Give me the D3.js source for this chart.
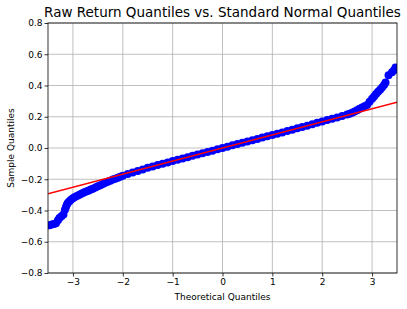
<!DOCTYPE html>
<html>
<head>
<meta charset="utf-8">
<script src="https://cdn.jsdelivr.net/npm/d3@7"></script>
<style>
  body { margin: 0; background: #fff; }
  text { font-family: "DejaVu Sans", sans-serif; fill: #000; }
</style>
</head>
<body>
<div id="chart"></div>
<script>
// theoretical quantiles (x) and sample quantiles (y)
const theoretical = [
  -3.47, -3.43, -3.38, -3.34, -3.30, -3.27, -3.23, -3.19, -3.16, -3.14,
  -3.12, -3.10, -3.07, -3.04, -3.00, -2.96, -2.92, -2.88, -2.84, -2.80,
  -2.76, -2.72, -2.68, -2.64, -2.60, -2.55, -2.50, -2.45, -2.40, -2.35,
  -2.30, -2.25, -2.20, -2.15, -2.10, -2.05, -2.00, -1.90, -1.80, -1.70,
  -1.60, -1.50, -1.40, -1.30, -1.20, -1.10, -1.00, -0.90, -0.80, -0.70,
  -0.60, -0.50, -0.40, -0.30, -0.20, -0.10, 0.00, 0.10, 0.20, 0.30,
  0.40, 0.50, 0.60, 0.70, 0.80, 0.90, 1.00, 1.10, 1.20, 1.30,
  1.40, 1.50, 1.60, 1.70, 1.80, 1.90, 2.00, 2.10, 2.20, 2.30,
  2.40, 2.50, 2.55, 2.60, 2.65, 2.70, 2.75, 2.80, 2.85, 2.90,
  2.95, 3.00, 3.04, 3.08, 3.12, 3.16, 3.20, 3.24, 3.27, 3.33,
  3.40, 3.44, 3.47
];
const sample = [
  -0.495, -0.490, -0.487, -0.482, -0.462, -0.448, -0.437, -0.425, -0.395, -0.378,
  -0.362, -0.350, -0.340, -0.331, -0.322, -0.314, -0.307, -0.300, -0.294, -0.288,
  -0.282, -0.277, -0.272, -0.266, -0.260, -0.253, -0.245, -0.238, -0.230, -0.223,
  -0.216, -0.209, -0.202, -0.196, -0.190, -0.184, -0.178, -0.167, -0.157, -0.147,
  -0.137, -0.127, -0.118, -0.109, -0.100, -0.092, -0.083, -0.075, -0.067, -0.059,
  -0.050, -0.042, -0.034, -0.025, -0.017, -0.008, 0.000, 0.008, 0.017, 0.025,
  0.034, 0.042, 0.050, 0.058, 0.067, 0.075, 0.083, 0.092, 0.100, 0.109,
  0.117, 0.126, 0.135, 0.143, 0.152, 0.161, 0.170, 0.179, 0.188, 0.196,
  0.205, 0.214, 0.219, 0.226, 0.234, 0.242, 0.251, 0.260, 0.268, 0.276,
  0.296, 0.316, 0.330, 0.346, 0.360, 0.373, 0.388, 0.404, 0.420, 0.465,
  0.485, 0.498, 0.515
];
// fitted reference line end points
const lineX = [-3.5, 3.5];
const lineY = [-0.293, 0.293];

const xTicks = [-3, -2, -1, 0, 1, 2, 3];
const yTicks = [-0.8, -0.6, -0.4, -0.2, 0.0, 0.2, 0.4, 0.6, 0.8];

const width = 407, height = 309;
const margin = {top: 23, right: 10, bottom: 36, left: 48};

const svg = d3.select("#chart")
    .append("svg")
    .attr("width", width)
    .attr("height", height);

const x = d3.scaleLinear()
    .domain([-3.5, 3.5])
    .range([margin.left, width - margin.right]);

const y = d3.scaleLinear()
    .domain([-0.8, 0.8])
    .range([height - margin.bottom, margin.top]);

svg.append("defs").append("clipPath")
    .attr("id", "clip")
    .append("rect")
    .attr("x", margin.left)
    .attr("y", margin.top)
    .attr("width", width - margin.left - margin.right)
    .attr("height", height - margin.top - margin.bottom);

// grid
svg.append("g")
    .selectAll("line")
    .data(xTicks)
    .enter()
    .append("line")
    .attr("x1", d => x(d)).attr("x2", d => x(d))
    .attr("y1", margin.top).attr("y2", height - margin.bottom)
    .attr("stroke", "#b0b0b0")
    .attr("stroke-width", 0.8);

svg.append("g")
    .selectAll("line")
    .data(yTicks)
    .enter()
    .append("line")
    .attr("x1", margin.left).attr("x2", width - margin.right)
    .attr("y1", d => y(d)).attr("y2", d => y(d))
    .attr("stroke", "#b0b0b0")
    .attr("stroke-width", 0.8);

// points
const pts = theoretical.map((t, i) => [t, sample[i]]);

svg.append("g")
    .attr("clip-path", "url(#clip)")
    .selectAll("circle")
    .data(pts)
    .enter()
    .append("circle")
    .attr("cx", d => x(d[0]))
    .attr("cy", d => y(d[1]))
    .attr("r", 4)
    .attr("fill", "#0000ff");

// reference line
svg.append("line")
    .attr("clip-path", "url(#clip)")
    .attr("x1", x(lineX[0])).attr("y1", y(lineY[0]))
    .attr("x2", x(lineX[1])).attr("y2", y(lineY[1]))
    .attr("stroke", "#ff0000")
    .attr("stroke-width", 1.4);

// axes
const xAxis = svg.append("g")
    .attr("transform", `translate(0,${height - margin.bottom})`)
    .call(d3.axisBottom(x).tickValues(xTicks).tickSize(3.5).tickPadding(2)
        .tickFormat(d => d3.format("")(d).replace("-", "\u2212")));

const yAxis = svg.append("g")
    .attr("transform", `translate(${margin.left},0)`)
    .call(d3.axisLeft(y).tickValues(yTicks).tickSize(3.5).tickPadding(2)
        .tickFormat(d => d3.format(".1f")(d).replace("-", "\u2212")));

[xAxis, yAxis].forEach(g => {
    g.select(".domain").remove();
    g.selectAll("line").attr("stroke", "#000").attr("stroke-width", 0.8);
    g.selectAll("text").style("font-size", "9px").attr("fill", "#000");
});

// frame
svg.append("rect")
    .attr("x", margin.left)
    .attr("y", margin.top)
    .attr("width", width - margin.left - margin.right)
    .attr("height", height - margin.top - margin.bottom)
    .attr("fill", "none")
    .attr("stroke", "#000")
    .attr("stroke-width", 0.8);

// labels
svg.append("text")
    .attr("x", (margin.left + width - margin.right) / 2)
    .attr("y", 17)
    .attr("text-anchor", "middle")
    .style("font-size", "13.5px")
    .text("Raw Return Quantiles vs. Standard Normal Quantiles");

svg.append("text")
    .attr("x", (margin.left + width - margin.right) / 2)
    .attr("y", 300)
    .attr("text-anchor", "middle")
    .style("font-size", "9px")
    .text("Theoretical Quantiles");

svg.append("text")
    .attr("transform", `translate(14,${(margin.top + height - margin.bottom) / 2}) rotate(-90)`)
    .attr("text-anchor", "middle")
    .style("font-size", "9px")
    .text("Sample Quantiles");
</script>
</body>
</html>
